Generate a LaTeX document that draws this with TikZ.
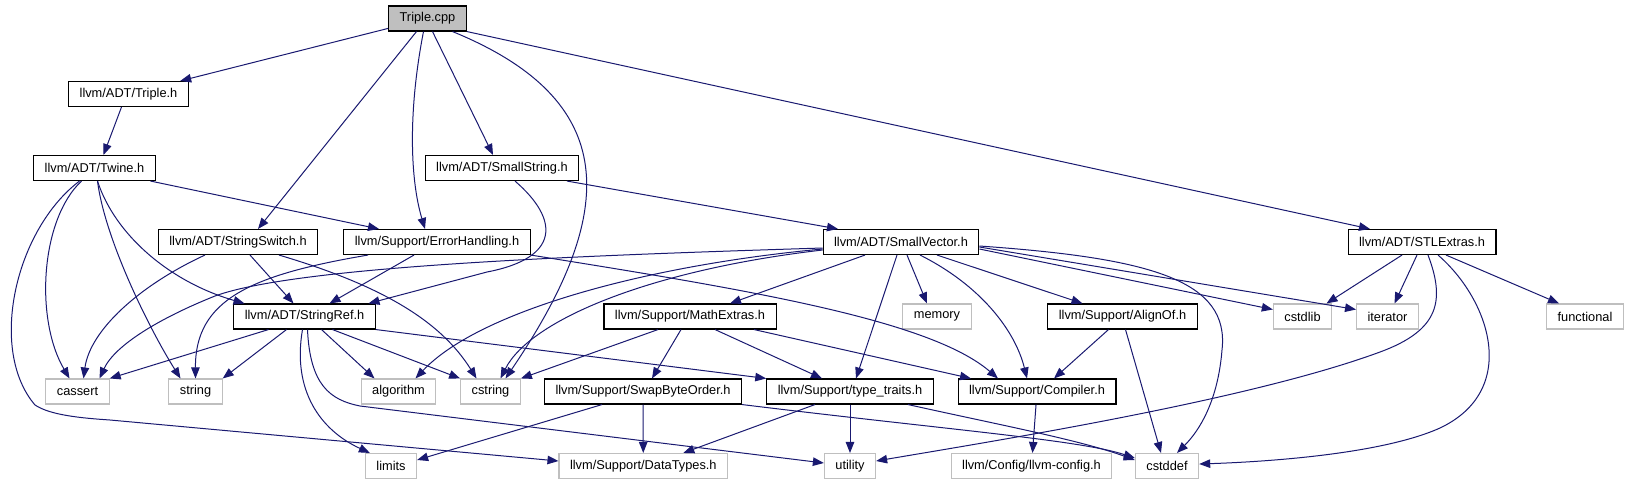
\documentclass[tikz,border=0pt]{standalone}
\usepackage{fontspec}
\usepackage{tikz}
\usetikzlibrary{arrows.meta}
\newfontfamily\dotfont{Liberation Sans}
\definecolor{DG_EDGE}{HTML}{191970}
\definecolor{DG_GREY}{HTML}{BFBFBF}
\tikzset{
  hdr/.style={
    rectangle, minimum height=25pt, inner xsep=11pt, inner ysep=0pt,
    text centered, draw=black, line width=1.1pt, fill=white,
    font=\dotfont\fontsize{12.8}{15}\selectfont},
  sys/.style={hdr, draw=DG_GREY},
  src/.style={hdr, fill=DG_GREY},
  inc/.style={-{Triangle[length=11pt,width=8.5pt]}, line width=1pt, color=DG_EDGE},
}

\begin{document}
\begin{tikzpicture}[x=1pt, y=-1pt]
  \useasboundingbox (0,0) rectangle (1630,485);

  \node[src] (cpp) at (427.5,18.5) {Triple.cpp};

  \node[hdr] (tripleh) at (128.5,94) {llvm/ADT/Triple.h};
  \node[hdr] (twine) at (94.5,168) {llvm/ADT/Twine.h};
  \node[hdr] (smallstr) at (502,168) {llvm/ADT/SmallString.h};

  \node[hdr] (sswitch) at (238,242) {llvm/ADT/StringSwitch.h};
  \node[hdr] (errh) at (437,242) {llvm/Support/ErrorHandling.h};
  \node[hdr] (smallvec) at (901,242) {llvm/ADT/SmallVector.h};
  \node[hdr] (stlx) at (1422,242) {llvm/ADT/STLExtras.h};

  \node[hdr] (sref) at (304.5,316.5) {llvm/ADT/StringRef.h};
  \node[hdr] (math) at (690,316.5) {llvm/Support/MathExtras.h};
  \node[sys] (memory) at (937,316.5) {memory};
  \node[hdr] (align) at (1122.5,316.5) {llvm/Support/AlignOf.h};
  \node[sys] (cstdlib) at (1302.5,316.5) {cstdlib};
  \node[sys] (iter) at (1387.5,316.5) {iterator};
  \node[sys] (functional) at (1585,316.5) {functional};

  \node[sys] (cassert) at (77.5,391.5) {cassert};
  \node[sys] (string) at (195.5,391.5) {string};
  \node[sys] (algo) at (398.5,391.5) {algorithm};
  \node[sys] (cstring) at (490.5,391.5) {cstring};
  \node[hdr] (swap) at (643,391.5) {llvm/Support/SwapByteOrder.h};
  \node[hdr] (ttraits) at (850,391.5) {llvm/Support/type\_traits.h};
  \node[hdr] (compiler) at (1037,391.5) {llvm/Support/Compiler.h};

  \node[sys] (limits) at (391,466) {limits};
  \node[sys] (dtypes) at (643.3,466) {llvm/Support/DataTypes.h};
  \node[sys] (utility) at (850,466) {utility};
  \node[sys] (config) at (1031.5,466) {llvm/Config/llvm-config.h};
  \node[sys] (cstddef) at (1167,466) {cstddef};

  \draw[inc] (cpp) -- (tripleh);
  \draw[inc] ([xshift=-11]cpp.south) -- ([xshift=20]sswitch.north);
  \draw[inc] ([xshift=-4]cpp.south) .. controls (408,111) and (410,179) .. ([xshift=-12]errh.north);
  \draw[inc] ([xshift=5]cpp.south) -- ([xshift=-9]smallstr.north);
  \draw[inc] ([xshift=25]cpp.south) .. controls (620,100) and (620,210) .. ([xshift=15]cstring.north);
  \draw[inc] (cpp.south east) -- ([xshift=-52]stlx.north);

  \draw[inc] ([xshift=-7]tripleh.south) -- ([xshift=9]twine.north);

  \draw[inc] ([xshift=56]twine.south) -- ([xshift=-58]errh.north);
  \draw[inc] ([xshift=-13]twine.south) .. controls (40,220) and (35,320) .. ([xshift=-8]cassert.north);
  \draw[inc] ([xshift=-15]twine.south) .. controls (15,230) and (-12,350) .. (35,405)
    .. controls (50,415) and (80,418) .. (110,420) -- ([yshift=5]dtypes.west);
  \draw[inc] ([xshift=3]twine.south) .. controls (105,240) and (150,330) .. ([xshift=-15]string.north);
  \draw[inc] ([xshift=3]twine.south) .. controls (115,235) and (170,282) .. ([xshift=-60]sref.north);

  \draw[inc] ([xshift=-33]sswitch.south) .. controls (140,285) and (90,330) .. ([xshift=6]cassert.north);
  \draw[inc] ([xshift=12]sswitch.south) -- ([xshift=-11]sref.north);
  \draw[inc] ([xshift=41]sswitch.south) .. controls (380,285) and (440,320) .. ([xshift=-14]cstring.north);

  \draw[inc] ([xshift=-69]errh.south) .. controls (250,275) and (195,300) .. (string.north);
  \draw[inc] ([xshift=-23]errh.south) -- ([xshift=25]sref.north);
  \draw[inc] (errh.south east) .. controls (750,290) and (930,320) .. ([xshift=-39]compiler.north);

  \draw[inc] ([xshift=13]smallstr.south) .. controls (560,220) and (560,258) .. (487,272) -- ([xshift=64]sref.north);
  \draw[inc] ([xshift=65]smallstr.south) -- ([xshift=-63]smallvec.north);

  \draw[inc] ([yshift=-6]smallvec.west) .. controls (600,255) and (300,265) .. (215,296)
    .. controls (160,318) and (115,345) .. ([xshift=22]cassert.north);
  \draw[inc] ([yshift=-7]smallvec.west) .. controls (650,265) and (480,310) .. ([xshift=17]algo.north);
  \draw[inc] ([yshift=-8]smallvec.west) .. controls (650,270) and (530,320) .. ([xshift=10]cstring.north);
  \draw[inc] ([xshift=-36]smallvec.south) -- ([xshift=40]math.north);
  \draw[inc] ([xshift=-4]smallvec.south) -- ([xshift=6]ttraits.north);
  \draw[inc] ([xshift=6]smallvec.south) -- ([xshift=-10]memory.north);
  \draw[inc] ([xshift=19]smallvec.south) .. controls (980,285) and (1015,330) .. ([xshift=-10]compiler.north);
  \draw[inc] ([xshift=36]smallvec.south) -- ([xshift=-40]align.north);
  \draw[inc] ([yshift=-7]smallvec.east) -- ([yshift=7]cstdlib.west);
  \draw[inc] ([yshift=-5]smallvec.east) -- ([yshift=7]iter.west);
  \draw[inc] ([yshift=-4]smallvec.east) .. controls (1150,258) and (1230,280) .. (1222,350)
    .. controls (1218,400) and (1200,430) .. ([xshift=10]cstddef.north);

  \draw[inc] ([xshift=-20]stlx.south) -- ([xshift=24]cstdlib.north);
  \draw[inc] ([xshift=-5]stlx.south) -- ([xshift=7]iter.north);
  \draw[inc] ([xshift=24]stlx.south) -- ([xshift=-26]functional.north);
  \draw[inc] ([xshift=6]stlx.south) .. controls (1445,300) and (1440,330) .. (1380,352)
    .. controls (1250,400) and (1000,440) .. ([yshift=5]utility.east);
  \draw[inc] ([xshift=16]stlx.south) .. controls (1490,300) and (1520,390) .. (1440,428)
    .. controls (1380,455) and (1260,462) .. ([yshift=2]cstddef.east);

  \draw[inc] ([xshift=-36]sref.south) -- (cassert.north east);
  \draw[inc] ([xshift=-18]sref.south) -- (string.north east);
  \draw[inc] ([xshift=17]sref.south) -- ([xshift=-24]algo.north);
  \draw[inc] ([xshift=28]sref.south) -- (cstring.north west);
  \draw[inc] ([xshift=-2]sref.south) .. controls (292,390) and (320,430) .. ([xshift=5]limits.north west);
  \draw[inc] ([xshift=3]sref.south) .. controls (310,385) and (330,400) .. (360,406) -- ([yshift=3]utility.west);
  \draw[inc] (sref.south east) -- (ttraits.north west);

  \draw[inc] ([xshift=-32]math.south) -- (cstring.north east);
  \draw[inc] ([xshift=-9]math.south) -- ([xshift=9]swap.north);
  \draw[inc] ([xshift=25]math.south) -- ([xshift=-28]ttraits.north);
  \draw[inc] ([xshift=64]math.south) -- ([xshift=-66]compiler.north);

  \draw[inc] ([xshift=-14]align.south) -- ([xshift=17]compiler.north);
  \draw[inc] ([xshift=3]align.south) -- ([xshift=-6]cstddef.north);

  \draw[inc] ([xshift=-41]swap.south) -- ([yshift=6]limits.east);
  \draw[inc] (swap) -- (dtypes);
  \draw[inc] (swap.south east) .. controls (950,430) and (1080,440) .. ([yshift=8]cstddef.west);

  \draw[inc] ([xshift=-35]ttraits.south) -- ([xshift=40]dtypes.north);
  \draw[inc] (ttraits) -- (utility);
  \draw[inc] ([xshift=58]ttraits.south) .. controls (1000,425) and (1080,440) .. ([yshift=6]cstddef.west);

  \draw[inc] (compiler) -- (config);

\end{tikzpicture}
\end{document}
